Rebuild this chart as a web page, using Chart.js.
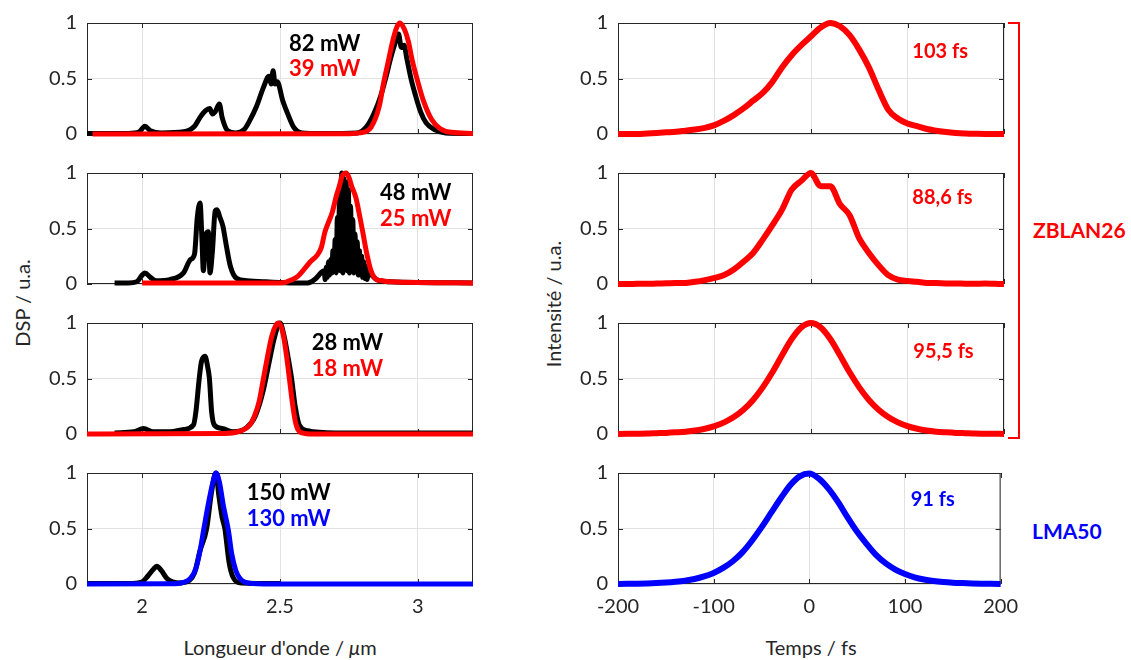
<!DOCTYPE html>
<html>
<head>
<meta charset="utf-8">
<script src="https://cdn.jsdelivr.net/npm/chart.js@4.4.1/dist/chart.umd.min.js"></script>
<style>
  body { margin: 0; background: #fff; width: 1131px; height: 660px; position: relative; overflow: hidden; font-family: Lato, sans-serif; color: #262626; }
  canvas { position: absolute; }
  .t { position: absolute; font-size: 20px; white-space: nowrap; transform: translate(-50%, -50%); }
  .v { transform: translate(-50%, -50%) rotate(-90deg); }
  .tag { position: absolute; font-weight: bold; font-size: 21px; transform: translateY(-50%); }
</style>
</head>
<body>

<div class="t" style="left:280px;top:647px">Longueur d'onde / <i>μ</i>m</div>
<div class="t" style="left:811px;top:647px">Temps / fs</div>
<div class="t v" style="left:22px;top:303px">DSP / u.a.</div>
<div class="t v" style="left:553px;top:304px">Intensité / u.a.</div>
<div style="position:absolute;left:1008px;top:22px;width:10px;height:413px;border:2px solid #ff0000;border-left:none"></div>
<div class="tag" style="left:1033px;top:229px;color:#ff0000">ZBLAN26</div>
<div class="tag" style="left:1032px;top:530px;color:#0000ff">LMA50</div>

<script>
// spectra: [wavelength µm, DSP]
const black82 = [[1.8,0.005],[1.95,0.005],[1.99,0.02],[2.01,0.07],[2.03,0.03],[2.07,0.01],[2.15,0.02],[2.19,0.07],[2.21,0.15],[2.23,0.21],[2.245,0.23],[2.255,0.18],[2.265,0.2],[2.28,0.27],[2.29,0.15],[2.31,0.03],[2.34,0.01],[2.37,0.04],[2.39,0.12],[2.415,0.25],[2.44,0.42],[2.46,0.52],[2.468,0.45],[2.475,0.57],[2.482,0.45],[2.49,0.47],[2.51,0.3],[2.53,0.17],[2.55,0.06],[2.58,0.01],[2.65,0.005],[2.78,0.01],[2.815,0.07],[2.84,0.18],[2.865,0.34],[2.885,0.52],[2.9,0.67],[2.915,0.8],[2.93,0.9],[2.94,0.78],[2.95,0.8],[2.96,0.68],[2.975,0.5],[2.99,0.36],[3.01,0.2],[3.03,0.1],[3.06,0.04],[3.1,0.01],[3.2,0.005]]
const red39 = [[1.82,0],[2.75,0.003],[2.79,0.01],[2.83,0.06],[2.86,0.25],[2.875,0.45],[2.895,0.68],[2.91,0.85],[2.925,0.97],[2.935,1.0],[2.95,0.95],[2.965,0.84],[2.98,0.66],[3.0,0.47],[3.02,0.3],[3.05,0.13],[3.08,0.05],[3.12,0.015],[3.2,0.005]]

const black48 = [[1.9,0.01],[1.95,0.01],[1.98,0.02],[2.0,0.08],[2.01,0.1],[2.03,0.06],[2.05,0.03],[2.1,0.04],[2.15,0.1],[2.175,0.22],[2.19,0.27],[2.2,0.6],[2.21,0.73],[2.217,0.4],[2.222,0.12],[2.232,0.45],[2.24,0.47],[2.246,0.1],[2.255,0.3],[2.265,0.66],[2.272,0.67],[2.282,0.6],[2.293,0.52],[2.305,0.35],[2.32,0.16],[2.343,0.05],[2.38,0.03],[2.45,0.02],[2.55,0.01],[2.6,0.01],[2.63,0.05],[2.648,0.1],
  [2.66,0.12],[2.664,0.04],[2.668,0.15],[2.672,0.06],[2.676,0.2],[2.68,0.08],[2.684,0.22],[2.688,0.1],[2.692,0.3],[2.696,0.12],[2.7,0.4],[2.704,0.1],[2.708,0.6],[2.712,0.15],[2.716,0.8],[2.72,0.12],[2.724,1.0],[2.728,0.1],[2.732,0.95],[2.736,0.15],[2.74,0.92],[2.744,0.12],[2.748,0.85],[2.752,0.1],[2.756,0.7],[2.76,0.15],[2.764,0.58],[2.768,0.1],[2.772,0.45],[2.776,0.12],[2.78,0.38],[2.784,0.08],[2.788,0.3],[2.792,0.1],[2.796,0.25],[2.8,0.06],[2.804,0.2],[2.808,0.05],[2.812,0.16],[2.816,0.04],[2.82,0.1],
  [2.85,0.04],[2.9,0.02],[3.2,0.01]]
const red25 = [[2.0,0.01],[2.3,0.01],[2.5,0.01],[2.525,0.02],[2.56,0.06],[2.59,0.14],[2.61,0.2],[2.635,0.26],[2.65,0.33],[2.663,0.47],[2.675,0.55],[2.69,0.65],[2.705,0.8],[2.715,0.88],[2.725,0.97],[2.74,1.0],[2.75,0.96],[2.76,0.88],[2.775,0.78],[2.79,0.6],[2.8,0.47],[2.815,0.27],[2.83,0.12],[2.85,0.04],[2.87,0.03],[2.9,0.02],[3.2,0.01]]

const black28 = [[1.9,0.01],[1.97,0.02],[2.005,0.05],[2.04,0.02],[2.1,0.02],[2.15,0.04],[2.186,0.08],[2.195,0.2],[2.207,0.5],[2.215,0.65],[2.228,0.7],[2.238,0.6],[2.244,0.5],[2.252,0.2],[2.262,0.08],[2.29,0.05],[2.33,0.02],[2.38,0.06],[2.41,0.16],[2.44,0.4],[2.46,0.64],[2.48,0.87],[2.5,1.0],[2.515,0.88],[2.53,0.68],[2.542,0.5],[2.555,0.25],[2.57,0.08],[2.6,0.03],[2.7,0.01],[3.2,0.01]]
const red18 = [[1.8,0],[2.3,0.005],[2.36,0.03],[2.39,0.08],[2.41,0.18],[2.425,0.3],[2.44,0.5],[2.455,0.7],[2.47,0.88],[2.485,0.98],[2.495,1.0],[2.505,0.96],[2.515,0.85],[2.525,0.68],[2.535,0.48],[2.545,0.28],[2.555,0.12],[2.565,0.04],[2.58,0.01],[2.62,0],[3.2,0]]

const black150 = [[1.8,0.005],[1.95,0.005],[2.0,0.02],[2.02,0.07],[2.04,0.13],[2.053,0.16],[2.07,0.12],[2.09,0.05],[2.11,0.02],[2.14,0.01],[2.17,0.03],[2.19,0.1],[2.21,0.3],[2.234,0.5],[2.25,0.8],[2.262,0.97],[2.268,1.0],[2.278,0.8],[2.29,0.6],[2.3,0.5],[2.315,0.2],[2.33,0.06],[2.36,0.01],[2.5,0.005]]
const blue130 = [[1.8,0],[2.1,0.002],[2.15,0.015],[2.175,0.05],[2.195,0.14],[2.21,0.3],[2.224,0.5],[2.24,0.72],[2.255,0.9],[2.268,1.0],[2.28,0.92],[2.295,0.7],[2.313,0.48],[2.325,0.27],[2.34,0.12],[2.355,0.05],[2.375,0.015],[2.4,0.005],[2.5,0],[3.2,0]]

// temporal profiles, one value every 10 fs
const timeFs = [-200,-190,-180,-170,-160,-150,-140,-130,-120,-110,-100,-90,-80,-70,-60,-50,-40,-30,-20,-10,0,10,20,30,40,50,60,70,80,90,100,110,120,130,140,150,160,170,180,190,200]
const pulse103 = [0,0,0,0.005,0.01,0.015,0.02,0.03,0.04,0.055,0.08,0.12,0.17,0.23,0.3,0.37,0.47,0.6,0.71,0.8,0.88,0.96,1.0,0.97,0.89,0.76,0.6,0.4,0.22,0.14,0.095,0.07,0.045,0.03,0.018,0.01,0.005,0.002,0,0,0]
const pulse886 = [0,0,0.002,0.002,0.004,0.006,0.008,0.01,0.02,0.035,0.055,0.08,0.13,0.2,0.28,0.4,0.53,0.67,0.85,0.93,1.0,0.88,0.88,0.72,0.62,0.41,0.28,0.17,0.08,0.04,0.028,0.02,0.01,0.008,0.005,0.004,0.003,0.002,0.004,0.002,0]
const pulse955 = [0.001,0.002,0.003,0.004,0.007,0.01,0.015,0.021,0.031,0.047,0.071,0.105,0.153,0.219,0.307,0.42,0.556,0.71,0.856,0.961,1,0.961,0.856,0.71,0.556,0.42,0.307,0.219,0.153,0.105,0.071,0.047,0.031,0.021,0.015,0.01,0.007,0.004,0.003,0.002,0.001]
const pulse91 = [0.001,0.002,0.003,0.005,0.008,0.013,0.02,0.03,0.045,0.068,0.1,0.145,0.205,0.285,0.39,0.51,0.64,0.77,0.89,0.97,0.995,0.95,0.86,0.74,0.6,0.47,0.36,0.26,0.185,0.13,0.09,0.06,0.04,0.027,0.018,0.012,0.008,0.005,0.003,0.002,0.001]

const wlTicks = [2, 2.5, 3]
const timeTicks = [-200, -100, 0, 100, 200]
const yTicks = [0, 0.5, 1]

const RED = '#ff0000', BLUE = '#0000ff', BLACK = '#000000'
const rowTop = [23, 173, 323, 473]
const PAD = 26   // room above/below each plot for the y tick labels

Chart.defaults.font.family = 'Lato'
Chart.defaults.color = '#262626'

// box with inward ticks (matlab look) + text notes in data units
const frame = {
  id: 'frame',
  beforeDatasetsDraw(chart) {
    const {ctx, chartArea: a, scales: {x, y}} = chart
    ctx.save()
    ctx.strokeStyle = '#262626'
    ctx.lineWidth = 1
    ctx.strokeRect(a.left + 0.5, a.top + 0.5, a.width - 1, a.height - 1)
    ctx.beginPath()
    x.ticks.forEach(t => {
      const p = Math.round(x.getPixelForValue(t.value)) + 0.5
      ctx.moveTo(p, a.bottom); ctx.lineTo(p, a.bottom - 5)
      ctx.moveTo(p, a.top); ctx.lineTo(p, a.top + 5)
    })
    y.ticks.forEach(t => {
      const p = Math.round(y.getPixelForValue(t.value)) + 0.5
      ctx.moveTo(a.left, p); ctx.lineTo(a.left + 5, p)
      ctx.moveTo(a.right, p); ctx.lineTo(a.right - 5, p)
    })
    ctx.stroke()
    ctx.restore()
  },
  afterDraw(chart, args, opts) {
    const {ctx, scales: {x, y}} = chart
    ctx.save()
    ctx.textBaseline = 'middle'
    ;(opts.notes || []).forEach(n => {
      ctx.font = n.font
      ctx.fillStyle = n.color
      ctx.fillText(n.text, x.getPixelForValue(n.x), y.getPixelForValue(n.y))
    })
    ctx.restore()
  }
}

function pairs(arr) { return arr.map(p => ({x: p[0], y: p[1]})) }
function zipT(vals) { return timeFs.map((t, i) => ({x: t, y: vals[i]})) }

function line(data, color, width) {
  return {data, borderColor: color, borderWidth: width, pointRadius: 0, cubicInterpolationMode: 'monotone', fill: false, clip: 5}
}

function panel(col, row, datasets, notes) {
  const last = row === 3
  const bottomH = last ? 45 : PAD
  const cv = document.createElement('canvas')
  cv.width = 481
  cv.height = PAD + 111 + bottomH
  cv.style.left = (col === 0 ? 17 : 548) + 'px'
  cv.style.top = (rowTop[row] - PAD) + 'px'
  document.body.appendChild(cv)
  const xt = col === 0 ? wlTicks : timeTicks
  new Chart(cv, {
    type: 'line',
    data: {datasets},
    options: {
      responsive: false,
      animation: false,
      devicePixelRatio: 1,
      layout: {padding: {top: PAD, right: 25, left: 0, bottom: 0}},
      plugins: {legend: {display: false}, tooltip: {enabled: false}, frame: {notes}},
      scales: {
        x: {
          type: 'linear',
          min: col === 0 ? 1.8 : -200,
          max: col === 0 ? 3.2 : 200,
          afterBuildTicks: s => { s.ticks = xt.map(v => ({value: v})) },
          afterFit: s => { s.height = bottomH },
          grid: {color: '#e2e2e2', drawTicks: false},
          border: {display: false},
          ticks: {display: last, font: {size: 20}, color: '#262626', padding: 11, maxRotation: 0, callback: v => String(v)}
        },
        y: {
          min: 0, max: 1,
          afterBuildTicks: s => { s.ticks = yTicks.map(v => ({value: v})) },
          afterFit: s => { s.width = 70 },
          grid: {color: '#e2e2e2', drawTicks: false},
          border: {display: false},
          ticks: {font: {size: 20}, color: '#262626', padding: 10, callback: v => String(v)}
        }
      }
    },
    plugins: [frame]
  })
}

const big = 'bold 22px Lato', mid = 'bold 20px Lato'

panel(0, 0, [line(pairs(red39), RED, 5), line(pairs(black82), BLACK, 5)],
  [{text: '82 mW', x: 2.533, y: 0.81, color: BLACK, font: big}, {text: '39 mW', x: 2.533, y: 0.59, color: RED, font: big}])
panel(0, 1, [line(pairs(red25), RED, 5), line(pairs(black48), BLACK, 5)],
  [{text: '48 mW', x: 2.863, y: 0.82, color: BLACK, font: big}, {text: '25 mW', x: 2.863, y: 0.59, color: RED, font: big}])
panel(0, 2, [line(pairs(red18), RED, 5), line(pairs(black28), BLACK, 5)],
  [{text: '28 mW', x: 2.615, y: 0.82, color: BLACK, font: big}, {text: '18 mW', x: 2.615, y: 0.59, color: RED, font: big}])
panel(0, 3, [line(pairs(blue130), BLUE, 5), line(pairs(black150), BLACK, 5)],
  [{text: '150 mW', x: 2.379, y: 0.82, color: BLACK, font: big}, {text: '130 mW', x: 2.379, y: 0.59, color: BLUE, font: big}])

panel(1, 0, [line(zipT(pulse103), RED, 6)], [{text: '103 fs', x: 105, y: 0.74, color: RED, font: mid}])
panel(1, 1, [line(zipT(pulse886), RED, 6)], [{text: '88,6 fs', x: 105, y: 0.78, color: RED, font: mid}])
panel(1, 2, [line(zipT(pulse955), RED, 6)], [{text: '95,5 fs', x: 106, y: 0.74, color: RED, font: mid}])
panel(1, 3, [line(zipT(pulse91), BLUE, 6)], [{text: '91 fs', x: 106, y: 0.76, color: BLUE, font: mid}])
</script>
</body>
</html>
